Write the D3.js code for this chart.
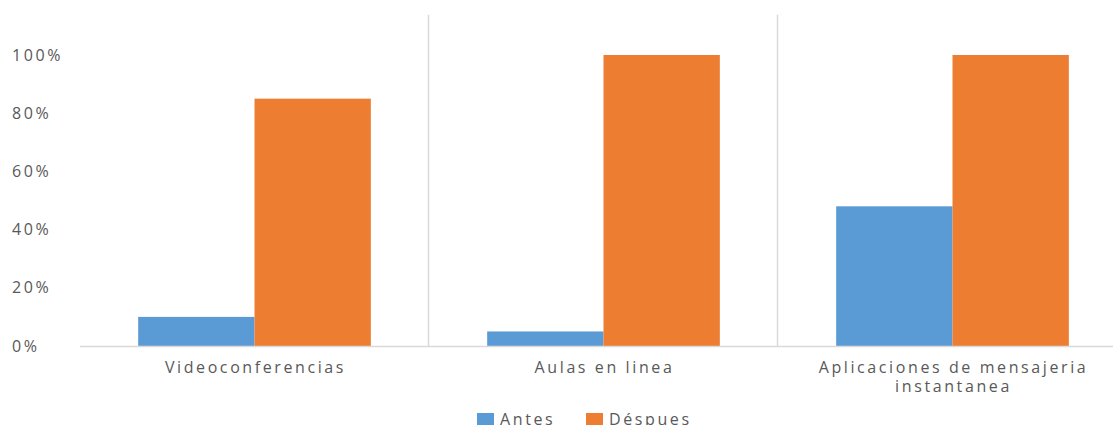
<!DOCTYPE html>
<html>
<head>
<meta charset="utf-8">
<script src="https://cdn.jsdelivr.net/npm/d3@7"></script>
<style>
  body { margin: 0; background: #fff; }
  text { font-family: "Open Sans", "DejaVu Sans", sans-serif; fill: #595959; letter-spacing: 2.6px; }
</style>
</head>
<body>
<div id="chart"></div>
<script>
// data
var categories = ["Videoconferencias", "Aulas en linea", "Aplicaciones de mensajeria instantanea"];
var seriesNames = ["Antes", "Déspues"];
var antes = [0.10, 0.05, 0.48];
var despues = [0.85, 1.00, 1.00];
var yTicks = [0, 0.2, 0.4, 0.6, 0.8, 1.0];
var colors = ["#5b9bd5", "#ed7d31"];

var W = 1113, H = 425;
var margin = {top: 55, left: 80, bottom: 79};

var svg = d3.select("#chart").append("svg")
  .attr("width", W).attr("height", H);

// scales
var x = d3.scaleBand().domain(categories).range([margin.left, margin.left + 349 * 3]).paddingInner(0).paddingOuter(0);
var xSub = d3.scaleBand().domain(seriesNames).range([0, x.bandwidth()]).paddingInner(0).paddingOuter(0.5);
var y = d3.scaleLinear().domain([0, 1]).range([H - margin.bottom, margin.top]);

var rows = categories.map(function(c, i) {
  return {cat: c, vals: [antes[i], despues[i]]};
});

// vertical dividers between categories
svg.selectAll(".divider")
  .data(categories.slice(1))
  .enter().append("line")
  .attr("class", "divider")
  .attr("x1", function(d) { return x(d) - 0.5; })
  .attr("x2", function(d) { return x(d) - 0.5; })
  .attr("y1", y(1.138))
  .attr("y2", y(0))
  .style("stroke", "#d9d9d9")
  .style("stroke-width", 1.5);

// bars
var g = svg.selectAll(".grp")
  .data(rows)
  .enter().append("g")
  .attr("class", "grp")
  .attr("transform", function(d) { return "translate(" + x(d.cat) + ",0)"; });

g.selectAll("rect")
  .data(function(d) { return d.vals.map(function(v, j) { return {s: seriesNames[j], v: v, j: j}; }); })
  .enter().append("rect")
  .attr("x", function(d) { return xSub(d.s); })
  .attr("width", xSub.bandwidth())
  .attr("y", function(d) { return y(d.v); })
  .attr("height", function(d) { return y(0) - y(d.v); })
  .style("fill", function(d) { return colors[d.j]; });

// baseline
svg.append("line")
  .attr("x1", margin.left).attr("x2", W)
  .attr("y1", y(0) + 0.5).attr("y2", y(0) + 0.5)
  .style("stroke", "#d9d9d9")
  .style("stroke-width", 1.5);

// y axis labels
var yAxis = d3.axisLeft(y).tickValues(yTicks).tickSize(0).tickFormat(d3.format(".0%"));
var ya = svg.append("g").attr("transform", "translate(12,0)").call(yAxis);
ya.select(".domain").remove();
ya.selectAll("text")
  .attr("x", 0)
  .style("text-anchor", "start")
  .style("font-size", "16px")
  .style("font-family", null)
  .attr("fill", "#595959");

// category labels (wrapped)
var catLines = {
  "Videoconferencias": ["Videoconferencias"],
  "Aulas en linea": ["Aulas en linea"],
  "Aplicaciones de mensajeria instantanea": ["Aplicaciones de mensajeria", "instantanea"]
};
svg.selectAll(".catlabel")
  .data(categories)
  .enter().append("text")
  .attr("class", "catlabel")
  .attr("text-anchor", "middle")
  .style("font-size", "16px")
  .each(function(d) {
    var t = d3.select(this);
    catLines[d].forEach(function(line, i) {
      t.append("tspan")
        .attr("x", x(d) + x.bandwidth() / 2 + 1)
        .attr("y", y(0) + 27 + i * 19)
        .text(line);
    });
  });

// legend
var legend = svg.append("g").attr("transform", "translate(477,413)");
var lx = [0, 109];
seriesNames.forEach(function(s, i) {
  var lg = legend.append("g").attr("transform", "translate(" + lx[i] + ",0)");
  lg.append("rect").attr("width", 17).attr("height", 13).style("fill", colors[i]);
  lg.append("text").attr("x", 23).attr("y", 12).style("font-size", "16px").text(s);
});
</script>
</body>
</html>
